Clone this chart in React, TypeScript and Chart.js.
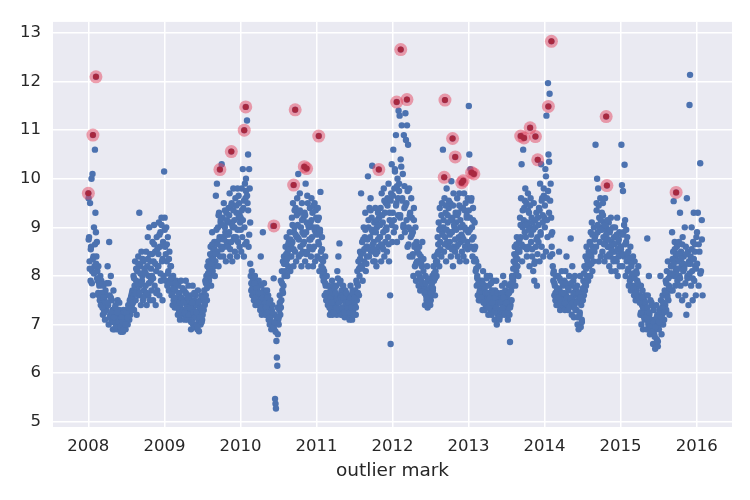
import React, { useEffect, useRef } from "react";
import { Chart, registerables } from "chart.js";
Chart.register(...registerables);

const YEAR_TICKS = [2008, 2009, 2010, 2011, 2012, 2013, 2014, 2015, 2016];
const VALUE_TICKS = [5, 6, 7, 8, 9, 10, 11, 12, 13];
const X_TITLE = "outlier mark";

// monthly readings (Jan..Dec), values spread over the days of each month
const Y2008 = [
  [9.6, 8.8, 8.3, 9.5, 7.9, 8.6, 10.0, 8.1, 10.1, 7.6, 8.4, 9.0, 8.2],
  [10.6, 9.3, 8.9, 8.4, 8.7, 8.1, 7.9, 8.2, 7.6, 7.8, 7.5, 8.0, 7.4],
  [7.9, 7.4, 7.6, 7.2, 7.8, 7.3, 7.5, 7.1, 7.7, 7.3, 7.6, 7.4],
  [8.2, 7.4, 7.0, 8.7, 7.6, 7.2, 8.0, 7.1, 7.5, 7.3, 6.9, 7.7],
  [7.3, 6.9, 7.1, 7.4, 7.0, 7.2, 6.9, 7.5, 7.1, 7.0, 7.3, 6.95],
  [7.0, 6.85, 7.2, 6.9, 7.1, 6.85, 7.3, 6.9, 7.0, 7.2, 6.9, 7.1],
  [7.1, 7.3, 7.0, 7.4, 7.2, 7.1, 7.5, 7.2, 7.3, 7.6, 7.4, 7.7],
  [7.6, 8.0, 7.3, 7.8, 8.3, 7.5, 7.9, 7.2, 8.1, 7.7, 8.4, 7.6],
  [9.3, 7.8, 8.2, 7.4, 8.5, 7.9, 8.0, 7.5, 8.3, 7.7, 8.1, 7.6],
  [7.8, 8.5, 7.4, 8.2, 8.8, 7.6, 8.0, 9.0, 7.5, 8.3, 7.9, 7.7],
  [8.0, 8.7, 7.5, 8.3, 9.05, 7.8, 8.5, 7.4, 8.1, 8.8, 7.7, 8.2],
  [8.2, 9.1, 7.6, 8.6, 8.9, 7.9, 9.2, 8.3, 7.5, 8.7, 8.0, 10.15],
];
const Y2008B = [
  [8.75, 8.15, 8.55, 7.85, 8.35, 8.05],
  [8.65, 8.25, 7.95, 7.65, 7.85, 7.55],
  [7.65, 7.35, 7.55, 7.25, 7.45, 7.85],
  [7.45, 7.85, 7.15, 7.55, 7.25, 7.05],
  [7.15, 7.35, 6.95, 7.25, 7.05, 7.45],
  [6.95, 7.15, 7.05, 6.9, 7.25, 7.0],
  [7.25, 7.15, 7.35, 7.45, 7.55, 7.65],
  [7.45, 7.95, 7.65, 8.15, 7.85, 8.25],
  [7.65, 8.05, 7.85, 8.35, 7.55, 8.15],
  [8.05, 7.65, 8.35, 7.85, 8.45, 8.15],
  [8.45, 7.95, 8.65, 8.25, 7.65, 8.55],
  [8.45, 8.85, 8.05, 9.05, 8.35, 8.65],
];
const Y2009 = [
  [9.2, 8.6, 7.9, 9.0, 8.3, 7.8, 8.8, 8.1, 7.7, 8.5, 7.9, 8.2],
  [8.2, 7.6, 7.9, 7.4, 8.0, 7.5, 7.8, 7.35, 7.7, 7.5, 7.9, 7.4],
  [7.5, 7.2, 7.8, 7.3, 7.6, 7.1, 7.4, 7.9, 7.2, 7.5, 7.3, 7.7],
  [7.3, 7.7, 7.1, 7.5, 7.9, 7.2, 7.4, 7.6, 7.1, 7.8, 7.3, 7.5],
  [7.2, 7.6, 6.9, 7.4, 7.1, 7.8, 7.0, 7.3, 7.5, 6.95, 7.2, 7.6],
  [7.0, 7.4, 6.9, 7.7, 7.1, 6.86, 7.3, 7.5, 7.0, 7.2, 7.6, 7.1],
  [7.2, 7.5, 7.3, 7.7, 7.4, 7.9, 7.6, 8.0, 7.5, 8.2, 7.8, 8.3],
  [7.9, 8.3, 8.0, 8.6, 7.8, 8.4, 8.9, 8.1, 8.5, 8.2, 8.7, 8.0],
  [8.3, 9.65, 8.7, 9.9, 8.5, 9.0, 8.2, 9.3, 8.8, 8.4, 9.1, 8.6],
  [10.3, 8.8, 9.2, 8.4, 9.5, 8.6, 9.0, 8.9, 8.3, 9.3, 8.7, 9.1],
  [8.6, 9.4, 8.9, 9.7, 8.4, 9.1, 8.7, 9.5, 8.3, 9.0, 9.8, 8.8],
  [9.0, 8.5, 9.6, 8.8, 9.3, 8.4, 9.8, 8.7, 9.2, 9.5, 8.6, 9.1],
];
const Y2009B = [
  [8.95, 8.45, 8.65, 8.05, 8.35, 7.85],
  [7.95, 7.65, 7.75, 7.55, 7.85, 7.45],
  [7.35, 7.65, 7.45, 7.25, 7.55, 7.75],
  [7.45, 7.25, 7.65, 7.35, 7.55, 7.2],
  [7.35, 7.05, 7.45, 7.25, 7.65, 7.15],
  [7.25, 6.95, 7.45, 7.15, 7.35, 7.05],
  [7.35, 7.55, 7.45, 7.85, 7.75, 8.05],
  [8.15, 8.45, 8.25, 8.65, 8.35, 8.55],
  [8.45, 8.95, 8.65, 9.25, 8.75, 9.15],
  [8.55, 9.05, 8.75, 9.35, 8.85, 9.15],
  [8.85, 9.25, 8.55, 9.45, 9.05, 9.35],
  [9.15, 8.75, 9.45, 8.95, 9.65, 9.25],
];
const Y2010 = [
  [9.2, 8.5, 9.8, 8.8, 10.2, 9.4, 8.4, 9.0, 9.9, 9.6, 10.0, 8.7],
  [11.2, 9.5, 10.5, 8.6, 10.2, 9.8, 9.1, 8.0, 7.7, 8.1, 7.6, 7.9],
  [7.9, 7.5, 7.7, 8.0, 7.4, 7.6, 7.8, 7.5, 7.7, 7.4, 7.9, 7.6],
  [7.6, 7.3, 8.4, 7.8, 7.2, 7.5, 8.9, 7.4, 7.7, 7.3, 7.6, 7.2],
  [7.5, 7.2, 7.7, 7.3, 7.6, 7.1, 7.4, 7.0, 7.5, 7.2, 6.9, 7.3],
  [7.4, 7.0, 9.03, 7.95, 6.9, 7.2, 5.47, 5.37, 5.27, 6.66, 6.32, 6.15, 6.8, 7.1],
  [7.0, 7.3, 7.6, 7.2, 7.9, 7.5, 8.1, 7.7, 8.3, 7.8, 8.4, 8.0],
  [8.1, 8.6, 8.3, 8.8, 8.0, 8.5, 8.2, 8.7, 8.4, 8.9, 8.1, 8.6],
  [8.4, 9.2, 8.7, 9.5, 8.2, 8.9, 9.0, 8.5, 9.4, 8.3, 8.8, 9.6],
  [8.8, 10.1, 8.4, 9.3, 9.7, 8.6, 9.0, 8.2, 9.5, 8.9, 8.5, 9.2],
  [8.7, 9.3, 8.3, 9.9, 8.9, 9.1, 8.5, 9.5, 8.2, 9.0, 8.6, 9.4],
  [9.1, 8.4, 9.6, 8.8, 9.3, 8.2, 9.0, 8.6, 9.5, 8.3, 8.9, 9.2],
];
const Y2010B = [
  [8.95, 9.35, 9.15, 9.55, 8.65, 9.75],
  [9.65, 9.35, 8.85, 8.25, 7.85, 7.75],
  [7.65, 7.85, 7.55, 7.75, 7.45, 7.65],
  [7.45, 7.65, 7.35, 7.55, 7.85, 7.45],
  [7.35, 7.55, 7.25, 7.45, 7.15, 7.05],
  [7.25, 6.95, 7.05, 6.85, 7.15, 7.35],
  [7.15, 7.45, 7.35, 7.85, 7.65, 8.25],
  [8.25, 8.45, 8.35, 8.65, 8.55, 8.75],
  [8.65, 9.05, 8.55, 9.35, 8.85, 9.25],
  [9.05, 8.75, 9.35, 8.45, 9.15, 8.65],
  [8.85, 9.25, 8.45, 9.65, 9.05, 8.75],
  [8.75, 9.15, 8.55, 9.45, 8.95, 9.35],
];
const Y2011 = [
  [9.0, 8.4, 9.4, 8.7, 9.2, 8.1, 8.9, 9.73, 8.5, 8.2, 8.8, 8.0],
  [8.3, 7.9, 8.1, 7.6, 8.4, 7.8, 7.5, 8.0, 7.6, 7.4, 7.8, 7.5],
  [7.5, 7.2, 7.7, 7.3, 7.6, 7.9, 7.2, 7.4, 7.8, 7.3, 7.5, 7.6],
  [7.4, 7.8, 7.2, 8.1, 7.5, 8.4, 7.3, 8.67, 7.6, 7.9, 7.2, 7.7],
  [7.6, 7.2, 7.8, 7.3, 7.5, 7.15, 7.7, 7.4, 7.2, 7.6, 7.3, 7.5],
  [7.3, 7.6, 7.1, 7.4, 7.8, 7.2, 7.5, 7.1, 7.7, 7.3, 7.4, 7.6],
  [7.4, 7.7, 7.2, 7.9, 7.5, 8.1, 7.8, 8.3, 7.6, 8.0, 8.5, 8.2],
  [9.7, 8.2, 8.7, 7.9, 8.5, 9.0, 8.3, 8.8, 9.3, 8.1, 8.6, 8.4],
  [8.6, 10.05, 9.0, 8.4, 9.4, 8.8, 9.6, 8.5, 9.2, 10.27, 8.9, 8.3],
  [8.7, 9.1, 8.3, 9.4, 8.9, 8.2, 9.0, 8.5, 9.3, 8.6, 9.2, 8.8],
  [8.8, 9.4, 8.3, 9.7, 8.6, 9.1, 8.9, 9.8, 8.4, 9.3, 8.7, 9.5],
  [9.0, 8.5, 9.6, 8.8, 9.9, 8.3, 9.3, 7.6, 6.6, 9.7, 10.3, 8.7],
];
const Y2011B = [
  [8.85, 9.15, 8.65, 8.95, 8.35, 8.55],
  [8.15, 7.95, 7.85, 7.65, 7.55, 7.45],
  [7.35, 7.55, 7.45, 7.65, 7.25, 7.75],
  [7.65, 7.35, 7.95, 7.45, 7.85, 7.55],
  [7.35, 7.55, 7.25, 7.45, 7.65, 7.35],
  [7.45, 7.25, 7.55, 7.35, 7.65, 7.2],
  [7.55, 7.35, 7.85, 7.65, 8.15, 8.35],
  [8.45, 8.15, 8.75, 8.55, 8.95, 8.25],
  [8.75, 9.15, 8.55, 9.35, 8.95, 8.65],
  [8.55, 8.95, 8.45, 9.15, 8.75, 9.05],
  [9.05, 8.65, 9.25, 8.55, 9.55, 8.95],
  [8.95, 9.45, 8.65, 9.15, 9.55, 9.05],
];
const Y2012 = [
  [9.3, 10.6, 8.9, 9.8, 10.2, 9.0, 10.9, 9.5, 8.7, 10.0, 9.6, 11.4],
  [9.9, 11.3, 9.2, 10.4, 8.8, 11.1, 9.6, 10.1, 9.0, 10.9, 9.4, 8.9],
  [11.35, 10.8, 9.5, 11.1, 8.6, 10.7, 9.0, 9.8, 8.4, 9.3, 8.8, 9.6],
  [9.2, 8.4, 8.9, 8.0, 9.4, 8.6, 8.2, 9.0, 7.9, 8.7, 8.3, 8.5],
  [8.3, 7.8, 8.6, 8.0, 7.7, 8.4, 7.9, 8.2, 8.7, 7.8, 8.1, 7.7],
  [7.8, 7.4, 8.0, 7.6, 7.5, 8.2, 7.35, 7.7, 7.9, 7.5, 7.6, 7.4],
  [7.5, 7.8, 7.6, 8.0, 7.7, 8.2, 7.9, 8.4, 7.6, 8.1, 8.3, 8.0],
  [8.3, 8.8, 8.5, 9.1, 8.2, 9.4, 8.7, 9.0, 8.4, 9.5, 8.9, 10.6],
  [9.0, 8.5, 9.6, 8.8, 9.3, 8.3, 9.8, 8.7, 9.1, 8.6, 9.4, 8.9],
  [8.7, 9.5, 8.4, 9.95, 8.9, 9.2, 8.2, 9.7, 8.6, 9.0, 8.5, 9.3],
  [9.1, 8.6, 9.6, 8.4, 9.3, 8.8, 9.7, 8.3, 9.0, 8.7, 9.4, 8.5],
  [8.8, 9.4, 8.4, 9.7, 9.0, 8.6, 9.5, 8.3, 9.2, 8.7, 9.6, 8.9],
];
const Y2012B = [
  [9.65, 9.15, 10.15, 9.45, 9.85, 9.25],
  [9.75, 9.25, 10.25, 9.55, 9.05, 9.85],
  [9.45, 9.15, 9.75, 8.65, 9.25, 8.95],
  [8.85, 8.45, 9.15, 8.65, 8.25, 8.55],
  [8.05, 8.45, 7.95, 8.25, 7.85, 8.35],
  [7.65, 7.85, 7.55, 7.95, 7.45, 7.75],
  [7.65, 7.85, 7.75, 8.05, 7.95, 8.25],
  [8.45, 8.65, 8.95, 8.55, 9.25, 8.85],
  [9.15, 8.65, 9.45, 8.95, 9.25, 9.55],
  [8.85, 9.15, 8.55, 9.45, 9.05, 8.75],
  [8.95, 9.25, 8.65, 9.45, 9.15, 8.85],
  [9.05, 8.75, 9.35, 8.95, 9.25, 8.55],
];
const Y2013 = [
  [11.5, 10.5, 9.2, 10.2, 8.6, 9.6, 9.0, 8.4, 9.4, 8.8, 8.3, 9.1],
  [8.6, 8.1, 8.3, 7.8, 8.0, 7.6, 8.2, 7.5, 7.9, 7.7, 7.5, 7.8],
  [7.6, 7.9, 7.3, 8.1, 7.5, 7.7, 7.3, 7.8, 7.4, 7.6, 8.0, 7.4],
  [7.5, 7.2, 7.8, 7.4, 8.0, 7.3, 7.6, 7.2, 7.7, 7.4, 7.9, 7.5],
  [7.4, 7.1, 7.7, 7.3, 7.9, 7.0, 7.5, 7.2, 7.6, 7.3, 7.1, 7.5],
  [7.3, 7.6, 7.2, 7.8, 7.4, 8.0, 7.3, 7.5, 7.2, 7.7, 7.4, 7.6],
  [7.3, 7.6, 7.1, 7.5, 7.8, 7.2, 6.64, 7.4, 7.7, 7.5, 8.0, 7.8],
  [7.9, 8.3, 8.0, 8.6, 7.8, 8.4, 8.1, 8.8, 8.2, 8.5, 8.0, 8.7],
  [8.5, 9.2, 8.8, 9.6, 10.3, 8.3, 9.0, 10.6, 8.6, 9.4, 8.9, 9.8],
  [8.8, 9.5, 8.4, 9.1, 9.7, 8.6, 9.3, 8.2, 9.0, 9.6, 8.7, 9.2],
  [8.4, 9.1, 8.1, 9.5, 7.9, 8.3, 9.0, 8.6, 9.3, 7.8, 8.8, 9.2],
  [8.7, 9.4, 8.3, 9.9, 8.9, 10.3, 8.6, 9.6, 9.1, 8.4, 9.8, 9.2],
];
const Y2013B = [
  [9.35, 8.95, 9.55, 8.75, 9.15, 8.55],
  [8.35, 8.15, 7.95, 7.85, 7.65, 7.55],
  [7.55, 7.85, 7.45, 7.75, 7.65, 7.95],
  [7.65, 7.35, 7.55, 7.85, 7.45, 7.65],
  [7.25, 7.55, 7.35, 7.65, 7.45, 7.15],
  [7.45, 7.65, 7.35, 7.55, 7.85, 7.45],
  [7.45, 7.25, 7.65, 7.35, 7.85, 7.95],
  [8.15, 8.45, 8.25, 8.65, 8.35, 8.55],
  [8.75, 9.05, 8.65, 9.35, 9.15, 9.55],
  [9.05, 8.55, 9.35, 8.95, 9.45, 8.85],
  [8.55, 8.95, 8.25, 9.15, 8.75, 8.45],
  [9.05, 9.35, 8.85, 9.55, 9.25, 9.65],
];
const Y2014 = [
  [9.0, 10.2, 8.5, 11.3, 9.6, 8.8, 11.97, 10.5, 9.3, 11.75, 8.4, 9.9],
  [9.2, 8.6, 8.9, 8.2, 7.9, 8.1, 7.6, 7.8, 7.5, 8.0, 7.4, 7.7],
  [7.6, 8.0, 7.4, 8.5, 7.7, 7.3, 7.9, 7.5, 8.1, 7.4, 7.8, 7.6],
  [7.5, 7.9, 7.3, 8.1, 7.6, 8.4, 7.4, 7.8, 7.3, 7.7, 8.0, 7.5],
  [7.4, 8.77, 7.8, 7.2, 8.2, 7.5, 7.9, 7.15, 7.6, 8.0, 7.3, 7.7],
  [7.3, 7.8, 7.0, 7.5, 6.9, 7.6, 7.2, 8.0, 6.95, 7.4, 7.1, 7.7],
  [7.5, 7.9, 7.6, 8.2, 7.7, 8.4, 7.8, 8.6, 8.0, 8.3, 7.9, 8.5],
  [8.2, 8.7, 8.0, 8.9, 8.4, 9.1, 8.1, 8.6, 8.3, 9.0, 8.5, 8.8],
  [10.7, 8.6, 9.5, 10.0, 8.9, 9.8, 8.3, 9.2, 8.7, 9.6, 8.4, 9.0],
  [9.3, 8.5, 9.5, 8.8, 9.1, 8.3, 9.6, 8.7, 9.0, 8.4, 8.9, 8.6],
  [8.6, 9.1, 8.2, 8.9, 8.4, 9.2, 8.1, 8.7, 8.5, 9.0, 8.3, 8.8],
  [8.5, 9.0, 8.1, 8.8, 8.3, 9.2, 8.0, 8.7, 8.4, 8.9, 8.2, 8.6],
];
const Y2014B = [
  [9.45, 10.05, 9.15, 9.75, 10.35, 9.55],
  [8.85, 8.45, 8.05, 7.85, 7.65, 7.55],
  [7.75, 7.55, 7.95, 7.45, 7.65, 7.85],
  [7.65, 7.45, 7.85, 7.55, 7.75, 7.35],
  [7.55, 7.85, 7.45, 7.65, 7.35, 7.75],
  [7.45, 7.15, 7.65, 7.25, 7.55, 7.05],
  [7.75, 8.05, 7.85, 8.15, 8.35, 8.25],
  [8.45, 8.65, 8.25, 8.85, 8.55, 8.75],
  [8.85, 9.35, 9.05, 9.45, 8.95, 9.15],
  [8.95, 9.25, 8.65, 9.05, 8.85, 9.15],
  [8.75, 8.45, 8.95, 8.55, 8.65, 8.35],
  [8.65, 8.35, 8.85, 8.55, 8.75, 8.45],
];
const Y2015 = [
  [8.6, 10.7, 9.87, 8.2, 9.75, 8.9, 8.4, 10.29, 9.15, 8.0, 8.7, 8.3],
  [8.8, 8.1, 8.5, 7.8, 8.3, 7.9, 8.6, 7.7, 8.2, 8.0, 7.8, 8.4],
  [8.0, 7.6, 8.3, 7.8, 7.5, 8.1, 7.7, 7.9, 7.5, 8.2, 7.6, 7.8],
  [7.6, 7.2, 7.8, 7.0, 7.4, 7.7, 6.9, 7.3, 7.5, 7.1, 7.6, 7.2],
  [7.3, 6.9, 8.77, 7.6, 7.0, 8.0, 7.2, 6.8, 7.5, 7.1, 7.4, 6.9],
  [7.0, 6.6, 7.3, 6.8, 7.1, 6.5, 6.9, 7.4, 6.7, 7.2, 6.55, 7.0],
  [6.9, 7.3, 7.0, 8.0, 7.5, 6.8, 7.2, 7.6, 7.0, 7.4, 7.1, 7.7],
  [7.4, 7.9, 7.3, 8.1, 7.6, 8.3, 7.5, 7.8, 7.2, 8.0, 7.7, 8.2],
  [8.2, 8.9, 7.7, 8.5, 9.54, 8.0, 8.7, 7.8, 8.4, 8.1, 8.6, 7.9],
  [8.3, 7.6, 8.7, 8.0, 9.3, 7.8, 8.5, 8.2, 7.5, 8.8, 8.1, 8.4],
  [8.2, 9.0, 7.6, 8.6, 7.2, 9.6, 8.0, 8.5, 7.4, 8.3, 11.52, 12.14],
  [8.4, 7.8, 9.0, 8.1, 7.5, 8.7, 9.3, 7.9, 8.5, 8.2, 7.6, 8.8],
];
const Y2015B = [
  [8.55, 8.85, 8.45, 9.05, 8.65, 8.95],
  [8.45, 8.15, 8.35, 7.95, 8.25, 8.05],
  [7.75, 7.95, 7.65, 8.05, 7.85, 7.55],
  [7.45, 7.25, 7.55, 7.35, 7.15, 7.45],
  [7.15, 7.35, 7.05, 7.25, 6.95, 7.45],
  [6.85, 7.05, 6.75, 6.95, 7.15, 6.65],
  [7.05, 7.25, 7.15, 7.35, 7.45, 7.25],
  [7.65, 7.85, 7.55, 7.95, 7.75, 8.05],
  [8.05, 8.35, 8.25, 8.55, 8.15, 8.45],
  [8.15, 8.45, 7.95, 8.35, 8.65, 8.25],
  [8.15, 7.85, 8.45, 7.95, 8.25, 8.05],
  [8.25, 8.55, 7.95, 8.35, 8.65, 8.15],
];
const Y2016 = [
  [8.9, 9.3, 7.8, 8.5, 10.32, 8.1, 9.15, 7.6],
];
const Y2016B = [
  [8.25, 8.65, 8.05, 8.75],
];

// flagged outliers: decimal year and value
const OUTLIER_DATES = [
  2008.0, 2008.06, 2008.1, 2009.73, 2009.88, 2010.05, 2010.07, 2010.44, 2010.7,
  2010.72, 2010.84, 2010.87, 2011.03, 2011.82, 2012.055, 2012.108, 2012.19,
  2012.68, 2012.69, 2012.79, 2012.825, 2012.91, 2012.93, 2013.04, 2013.07,
  2013.686, 2013.73, 2013.81, 2013.88, 2013.91, 2014.05, 2014.09, 2014.81,
  2014.82, 2015.73,
];
const OUTLIER_VALUES = [
  9.7, 10.9, 12.1, 10.19, 10.56, 11.0, 11.48, 9.03, 9.87,
  11.42, 10.25, 10.21, 10.88, 10.19, 11.58, 12.66, 11.63,
  10.03, 11.62, 10.83, 10.45, 9.92, 9.96, 10.13, 10.1,
  10.88, 10.84, 11.05, 10.87, 10.39, 11.49, 12.83, 11.28,
  9.86, 9.72,
];

const YEARS: [number, number[][], number[][]][] = [
  [2008, Y2008, Y2008B], [2009, Y2009, Y2009B], [2010, Y2010, Y2010B],
  [2011, Y2011, Y2011B], [2012, Y2012, Y2012B], [2013, Y2013, Y2013B],
  [2014, Y2014, Y2014B], [2015, Y2015, Y2015B], [2016, Y2016, Y2016B],
];

function monthlyPoints(year: number, months: number[][], shift: number) {
  const pts: { x: number; y: number }[] = [];
  months.forEach((vals, m) => {
    vals.forEach((v, j) => {
      pts.push({ x: year + (m + (j + shift) / vals.length) / 12, y: v });
    });
  });
  return pts;
}

const bgPlugin = {
  id: "bgArea",
  beforeDraw(chart: any) {
    const { ctx, chartArea } = chart;
    ctx.save();
    ctx.fillStyle = "#eaeaf2";
    ctx.fillRect(chartArea.left, chartArea.top, chartArea.right - chartArea.left, chartArea.bottom - chartArea.top);
    ctx.restore();
  },
};

export default function App() {
  const ref = useRef<HTMLCanvasElement>(null);
  useEffect(() => {
    const blue: { x: number; y: number }[] = [];
    YEARS.forEach(([y, a, b]) => {
      blue.push(...monthlyPoints(y, a, 0.5));
      blue.push(...monthlyPoints(y, b, 0.3));
    });
    const outliers = OUTLIER_DATES.map((d, i) => ({ x: d, y: OUTLIER_VALUES[i] }));
    blue.push(...outliers);

    const tickFont = { family: "DejaVu Sans", size: 16.5 };
    const titleFont = { family: "DejaVu Sans", size: 18.5 };
    const chart = new Chart(ref.current as HTMLCanvasElement, {
      type: "scatter",
      data: {
        datasets: [
          {
            data: outliers,
            pointRadius: 3,
            pointBackgroundColor: "#a8283f",
            pointBorderWidth: 0,
            pointHoverRadius: 3,
          },
          {
            data: outliers,
            pointRadius: 6.5,
            pointBackgroundColor: "rgba(228, 70, 95, 0.5)",
            pointBorderWidth: 0,
            pointHoverRadius: 6.5,
          },
          {
            data: blue,
            pointRadius: 3.2,
            pointBackgroundColor: "#4c72b0",
            pointBorderWidth: 0,
            pointHoverRadius: 3.2,
          },
        ],
      },
      options: {
        animation: false,
        responsive: false,
        events: [],
        layout: { padding: { left: 0, right: 18, top: 18, bottom: 0 } },
        plugins: { legend: { display: false }, tooltip: { enabled: false } },
        scales: {
          x: {
            type: "linear",
            min: 2007.535,
            max: 2016.465,
            afterBuildTicks: (s: any) => {
              s.ticks = YEAR_TICKS.map((v) => ({ value: v }));
            },
            afterFit: (s: any) => {
              s.height = 73;
            },
            grid: { color: "#ffffff", lineWidth: 1.5, drawTicks: false },
            border: { display: false },
            ticks: { color: "#262626", font: tickFont, padding: 10, callback: (v: any) => String(v), maxRotation: 0 },
            title: { display: true, text: X_TITLE, color: "#262626", font: titleFont, padding: { top: 0, bottom: 18 } },
          },
          y: {
            type: "linear",
            min: 4.89,
            max: 13.23,
            afterBuildTicks: (s: any) => {
              s.ticks = VALUE_TICKS.map((v) => ({ value: v }));
            },
            afterFit: (s: any) => {
              s.width = 53;
            },
            grid: { color: "#ffffff", lineWidth: 1.5, drawTicks: false },
            border: { display: false },
            ticks: { color: "#262626", font: tickFont, padding: 12, callback: (v: any) => String(v) },
          },
        },
      },
      plugins: [bgPlugin],
    });
    return () => chart.destroy();
  }, []);
  return (
    <div style={{ position: "absolute", left: 0, top: 0, width: 750, height: 500, background: "#ffffff" }}>
      <canvas ref={ref} width={750} height={500} style={{ display: "block" }} />
    </div>
  );
}
